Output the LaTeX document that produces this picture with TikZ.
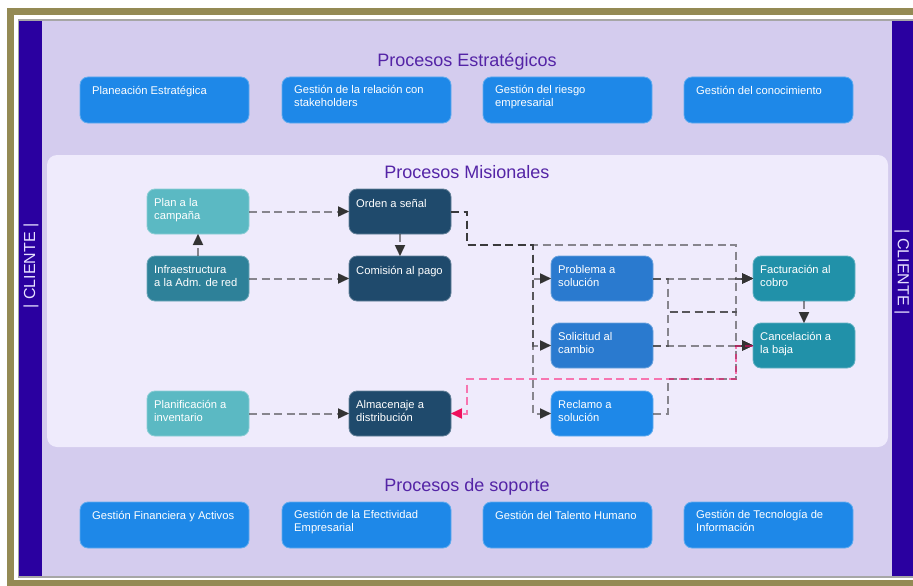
\documentclass[tikz,border=0pt]{standalone}
\usepackage{fontspec}
\setmainfont{Liberation Sans}
\usetikzlibrary{arrows.meta,calc}

\definecolor{frameOlive}{HTML}{948A54}
\definecolor{barBlue}{HTML}{2A00A0}
\definecolor{bgLav}{HTML}{D4CCEE}
\definecolor{panelLav}{HTML}{EFEBFC}
\definecolor{titlePurple}{HTML}{5424A6}
\definecolor{clientText}{HTML}{E6E0FF}
\definecolor{procBlue}{HTML}{1E88E8}
\definecolor{tealLight}{HTML}{5BB9C3}
\definecolor{tealMid}{HTML}{2E8199}
\definecolor{navy}{HTML}{1F4A6C}
\definecolor{midBlue}{HTML}{2A7ACF}
\definecolor{tealDark}{HTML}{2191A9}
\definecolor{flowGray}{HTML}{333333}
\definecolor{flowPink}{HTML}{FF0066}
\definecolor{tipPink}{HTML}{F0105E}

\newcommand\boxfont{\fontsize{11.2}{13}\selectfont}
\newcommand\titlefont{\fontsize{18}{21}\selectfont}
\newcommand\clientfont{\fontsize{16}{19}\selectfont}

\tikzset{
  proc/.style={fill=#1, draw=#1!70!white, line width=0.8pt, rounded corners=8pt,
    inner sep=0pt, outer sep=0pt},
  wide/.style={proc=procBlue, minimum width=169pt, minimum height=46pt},
  mbox/.style={proc=#1, minimum width=102pt, minimum height=45pt},
  txt/.style={anchor=north west, inner sep=0pt, font=\boxfont, text=white,
    align=left, execute at begin node=\strut},
  title/.style={anchor=base, inner sep=0pt, font=\titlefont, text=titlePurple},
  client/.style={inner sep=0pt, font=\clientfont, text=clientText},
  flow/.style={draw=flowGray, draw opacity=0.55, line width=2pt,
    dash pattern=on 8pt off 4.5pt,
    -{Triangle[length=11pt,width=10.5pt,line width=0.1pt,fill=flowGray]}},
  pinkflow/.style={draw=flowPink, draw opacity=0.5, line width=2pt,
    dash pattern=on 8pt off 4.5pt,
    -{Triangle[length=11pt,width=10.5pt,line width=0.1pt,fill=tipPink,color=tipPink]}},
}

\begin{document}
\begin{tikzpicture}[x=1pt,y=-1pt]
\useasboundingbox (0,0) rectangle (913,586);

% outer frame and background
\fill[white] (0,0) rectangle (913,586);
\fill[frameOlive] (7,8) rectangle (913,586);
\fill[white] (14,15) rectangle (913,580);
\fill[black!35] (18,19) rectangle (913,577.5);
\fill[bgLav] (19,21) rectangle (913,576);
\fill[barBlue] (19,21) rectangle (42,576);
\fill[barBlue] (892,21) rectangle (913,576);

% client bars
\node[client, rotate=90] (clientL) at (31,266) {| CLIENTE |};
\node[client, rotate=-90] (clientR) at (902,272) {| CLIENTE |};

% mission panel
\fill[panelLav, rounded corners=10pt] (47,155) rectangle (888,447);

% titles
\node[title] (tEst) at (467,66.5) {Procesos Estratégicos};
\node[title] (tMis) at (467,178.5) {Procesos Misionales};
\node[title] (tSop) at (467,491.5) {Procesos de soporte};

% strategic processes
\node[wide, anchor=north west] (e1) at (80,77) {};
\node[wide, anchor=north west] (e2) at (282,77) {};
\node[wide, anchor=north west] (e3) at (483,77) {};
\node[wide, anchor=north west] (e4) at (684,77) {};
\node[txt] (e1t) at ($(e1.north west)+(12,8.4)$) {Planeación Estratégica};
\node[txt] (e2t) at ($(e2.north west)+(12,8.4)$) {Gestión de la relación con\\stakeholders};
\node[txt] (e3t) at ($(e3.north west)+(12,8.4)$) {Gestión del riesgo\\empresarial};
\node[txt] (e4t) at ($(e4.north west)+(12,8.4)$) {Gestión del conocimiento};

% support processes
\node[wide, anchor=north west] (s1) at (80,502) {};
\node[wide, anchor=north west] (s2) at (282,502) {};
\node[wide, anchor=north west] (s3) at (483,502) {};
\node[wide, anchor=north west] (s4) at (684,502) {};
\node[txt] (s1t) at ($(s1.north west)+(12,8.4)$) {Gestión Financiera y Activos};
\node[txt] (s2t) at ($(s2.north west)+(12,8.4)$) {Gestión de la Efectividad\\Empresarial};
\node[txt] (s3t) at ($(s3.north west)+(12,8.4)$) {Gestión del Talento Humano};
\node[txt] (s4t) at ($(s4.north west)+(12,8.4)$) {Gestión de Tecnología de\\Información};

% mission processes
\node[mbox=tealLight] (pc)  at (198,211.5) {};
\node[mbox=tealMid]   (inf) at (198,278.5) {};
\node[mbox=tealLight] (pla) at (198,413.5) {};
\node[mbox=navy]      (ord) at (400,211.5) {};
\node[mbox=navy]      (com) at (400,278.5) {};
\node[mbox=navy]      (alm) at (400,413.5) {};
\node[mbox=midBlue]   (pro) at (602,278.5) {};
\node[mbox=midBlue]   (sol) at (602,345.5) {};
\node[mbox=procBlue]  (rec) at (602,413.5) {};
\node[mbox=tealDark]  (fac) at (804,278.5) {};
\node[mbox=tealDark]  (can) at (804,345.5) {};

\node[txt] (pct)  at ($(pc.north west)+(7,8.9)$)  {Plan a la\\campaña};
\node[txt] (inft) at ($(inf.north west)+(7,8.9)$) {Infraestructura\\a la Adm. de red};
\node[txt] (plat) at ($(pla.north west)+(7,8.9)$) {Planificación a\\inventario};
\node[txt] (ordt) at ($(ord.north west)+(7,8.9)$) {Orden a señal};
\node[txt] (comt) at ($(com.north west)+(7,8.9)$) {Comisión al pago};
\node[txt] (almt) at ($(alm.north west)+(7,8.9)$) {Almacenaje a\\distribución};
\node[txt] (prot) at ($(pro.north west)+(7,8.9)$) {Problema a\\solución};
\node[txt] (solt) at ($(sol.north west)+(7,8.9)$) {Solicitud al\\cambio};
\node[txt] (rect) at ($(rec.north west)+(7,8.9)$) {Reclamo a\\solución};
\node[txt] (fact) at ($(fac.north west)+(7,8.9)$) {Facturación al\\cobro};
\node[txt] (cant) at ($(can.north west)+(7,8.9)$) {Cancelación a\\la baja};

% routing points
\coordinate (b1) at (467,245);
\coordinate (b2) at (533,245);
\coordinate (b3) at (736,245);
\coordinate (b4) at (668,312);
\coordinate (b5) at (736,312);
\coordinate (b6) at (668,379);
\coordinate (b7) at (736,379);
\coordinate (b8) at (467,379);

% connectors
\draw[flow] (pc.east) -- (ord.west);
\draw[flow] (inf.north) -- (pc.south);
\draw[flow] (inf.east) -- (com.west);
\draw[flow] (ord.south) -- (com.north);
\draw[flow] (pla.east) -- (alm.west);

\draw[flow] (ord.east) -| (b1) -- (b2) |- (pro.west);
\draw[flow] (ord.east) -| (b1) -- (b2) |- (sol.west);
\draw[flow] (ord.east) -| (b1) -- (b2) |- (rec.west);
\draw[flow] (ord.east) -| (b1) -- (b3) |- (fac.west);

\draw[flow] (pro.east) -- (fac.west);
\draw[flow] (pro.east) -| (b4) -- (b5) |- (can.west);
\draw[flow] (sol.east) -- (can.west);
\draw[flow] (sol.east) -| (b4) -- (b5) |- (fac.west);
\draw[flow] (rec.east) -| (b6) -- (b7) |- (can.west);
\draw[flow] (fac.south) -- (can.north);

\draw[pinkflow] (can.west) -| (b7) -- (b8) |- (alm.east);

\end{tikzpicture}
\end{document}
